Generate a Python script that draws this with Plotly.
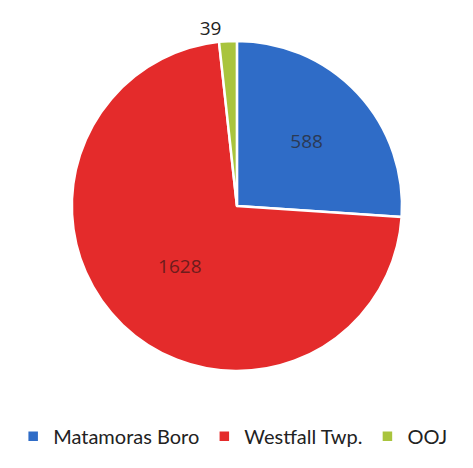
import plotly.graph_objects as go

labels = ["Matamoras Boro", "Westfall Twp.", "OOJ"]
values = [588, 1628, 39]
colors = ["#2f6cc7", "#e42b2b", "#a9c43d"]
text_colors = ["#2b3a55", "#6e1c1c", "#222222"]
positions = ["inside", "inside", "outside"]

fig = go.Figure(go.Pie(
    labels=labels,
    values=values,
    sort=False,
    direction="clockwise",
    rotation=0,
    marker=dict(colors=colors, line=dict(color="white", width=2.5)),
    textinfo="value",
    textposition=positions,
    insidetextorientation="horizontal",
    textfont=dict(size=19, color=text_colors, family="Open Sans"),
    domain=dict(x=[0.135, 0.833], y=[0.224, 0.93]),
))

fig.update_layout(
    width=473, height=468,
    margin=dict(l=0, r=0, t=0, b=0),
    paper_bgcolor="white",
    plot_bgcolor="white",
    showlegend=True,
    legend=dict(orientation="h", x=0.475, xanchor="center", y=0.085, yanchor="middle",
                font=dict(size=20, family="Lato", color="#222222"),
                itemwidth=30, traceorder="normal"),
)

fig.write_html("out.html")
